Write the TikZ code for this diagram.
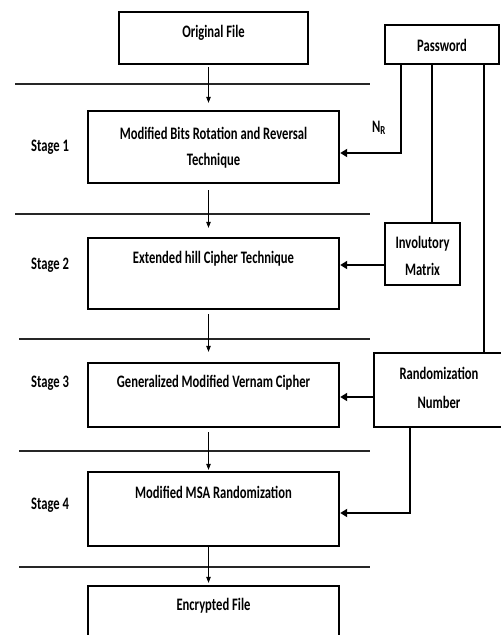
\documentclass[tikz,border=0pt]{standalone}
\usepackage{fontspec}
\setmainfont[FakeStretch=0.72]{Carlito}
\usetikzlibrary{arrows.meta,calc}
\begin{document}
\begin{tikzpicture}[x=1pt,y=-1pt,
  box/.style={draw,line width=2.4pt,inner sep=0pt},
  txt/.style={font=\bfseries\fontsize{17.5}{20}\selectfont,inner sep=0pt,align=center},
  sep/.style={line width=1.8pt,draw=black!85},
  flow/.style={line width=0.6pt,-{Triangle[length=6pt,width=4.5pt]}},
  key/.style={line width=2.6pt,-{Triangle[length=7pt,width=8pt]}}]
\clip (0,0) rectangle (501,635);
\useasboundingbox (0,0) rectangle (501,635);
% boxes
\node[box,minimum width=189pt,minimum height=52pt] (orig) at (213.5,38) {};
\node[txt] (origt) at (213.5,33) {Original File};
\node[box,minimum width=114pt,minimum height=39pt] (pw) at (442,44.5) {};
\node[txt] (pwt) at (442,45) {Password};
\node[box,minimum width=251pt,minimum height=72pt] (s1) at (213.5,147) {};
\node[txt] (s1a) at (213.5,133) {Modified Bits Rotation and Reversal};
\node[txt] (s1b) at (213.5,161) {Technique};
\node[box,minimum width=251pt,minimum height=71pt] (s2) at (213.5,273.5) {};
\node[txt] (s2t) at (213.5,259) {Extended hill Cipher Technique};
\node[box,minimum width=75pt,minimum height=62pt] (im) at (422.5,254) {};
\node[txt] (ima) at (422.5,244) {Involutory};
\node[txt] (imb) at (422.5,269) {Matrix};
\node[box,minimum width=251pt,minimum height=64pt] (s3) at (213.5,395) {};
\node[txt] (s3t) at (213.5,383) {Generalized Modified Vernam Cipher};
\node[box,minimum width=132pt,minimum height=74pt] (rn) at (440,390) {};
\node[txt] (rna) at (439,373) {Randomization};
\node[txt] (rnb) at (439,402) {Number};
\node[box,minimum width=251pt,minimum height=74pt] (s4) at (213.5,509) {};
\node[txt] (s4t) at (213.5,492) {Modified MSA Randomization};
\node[box,minimum width=251pt,minimum height=74pt] (enc) at (213.5,623) {};
\node[txt] (enct) at (213.5,606) {Encrypted File};
% stage labels
\node[txt] (l1) at (50,147) {Stage 1};
\node[txt] (l2) at (50,265) {Stage 2};
\node[txt] (l3) at (50,383) {Stage 3};
\node[txt] (l4) at (50,505) {Stage 4};
\node[txt] (nr) at (379,128) {N\textsubscript{R}};
% separators
\draw[sep] (15,84) -- (370,84);
\draw[sep] (15,214) -- (370,214);
\draw[sep] (19,339) -- (370,339);
\draw[sep] (19,451) -- (370,451);
\draw[sep] (19,567) -- (370,567);
% flow arrows
\coordinate (ax) at (208.5,0);
\draw[flow,shorten <=2pt,shorten >=7pt] (orig.south -| ax) -- (s1.north -| ax);
\draw[flow,shorten <=6pt,shorten >=9pt] (s1.south -| ax) -- (s2.north -| ax);
\draw[flow,shorten <=4pt,shorten >=10pt] (s2.south -| ax) -- (s3.north -| ax);
\draw[flow,shorten <=4pt,shorten >=1pt] (s3.south -| ax) -- (s4.north -| ax);
\draw[flow,shorten <=0pt,shorten >=2pt] (s4.south -| ax) -- (enc.north -| ax);
% key connectors
\coordinate (p1) at (401,153);
\coordinate (p2) at (432,64);
\coordinate (p3) at (484,64);
\draw[key] (pw.south -| p1) -- (p1) -- (p1 -| s1.east);
\draw[line width=2.6pt] (p2) -- (p2 |- im.north);
\draw[line width=2.6pt] (p3) -- (p3 |- rn.north);
\coordinate (i1) at (385,265);
\draw[key] (i1) -- (i1 -| s2.east);
\coordinate (r1) at (374,397);
\draw[key] (r1) -- (r1 -| s3.east);
\coordinate (r2) at (410,513);
\draw[key] (rn.south -| r2) -- (r2) -- (r2 -| s4.east);
\end{tikzpicture}
\end{document}
